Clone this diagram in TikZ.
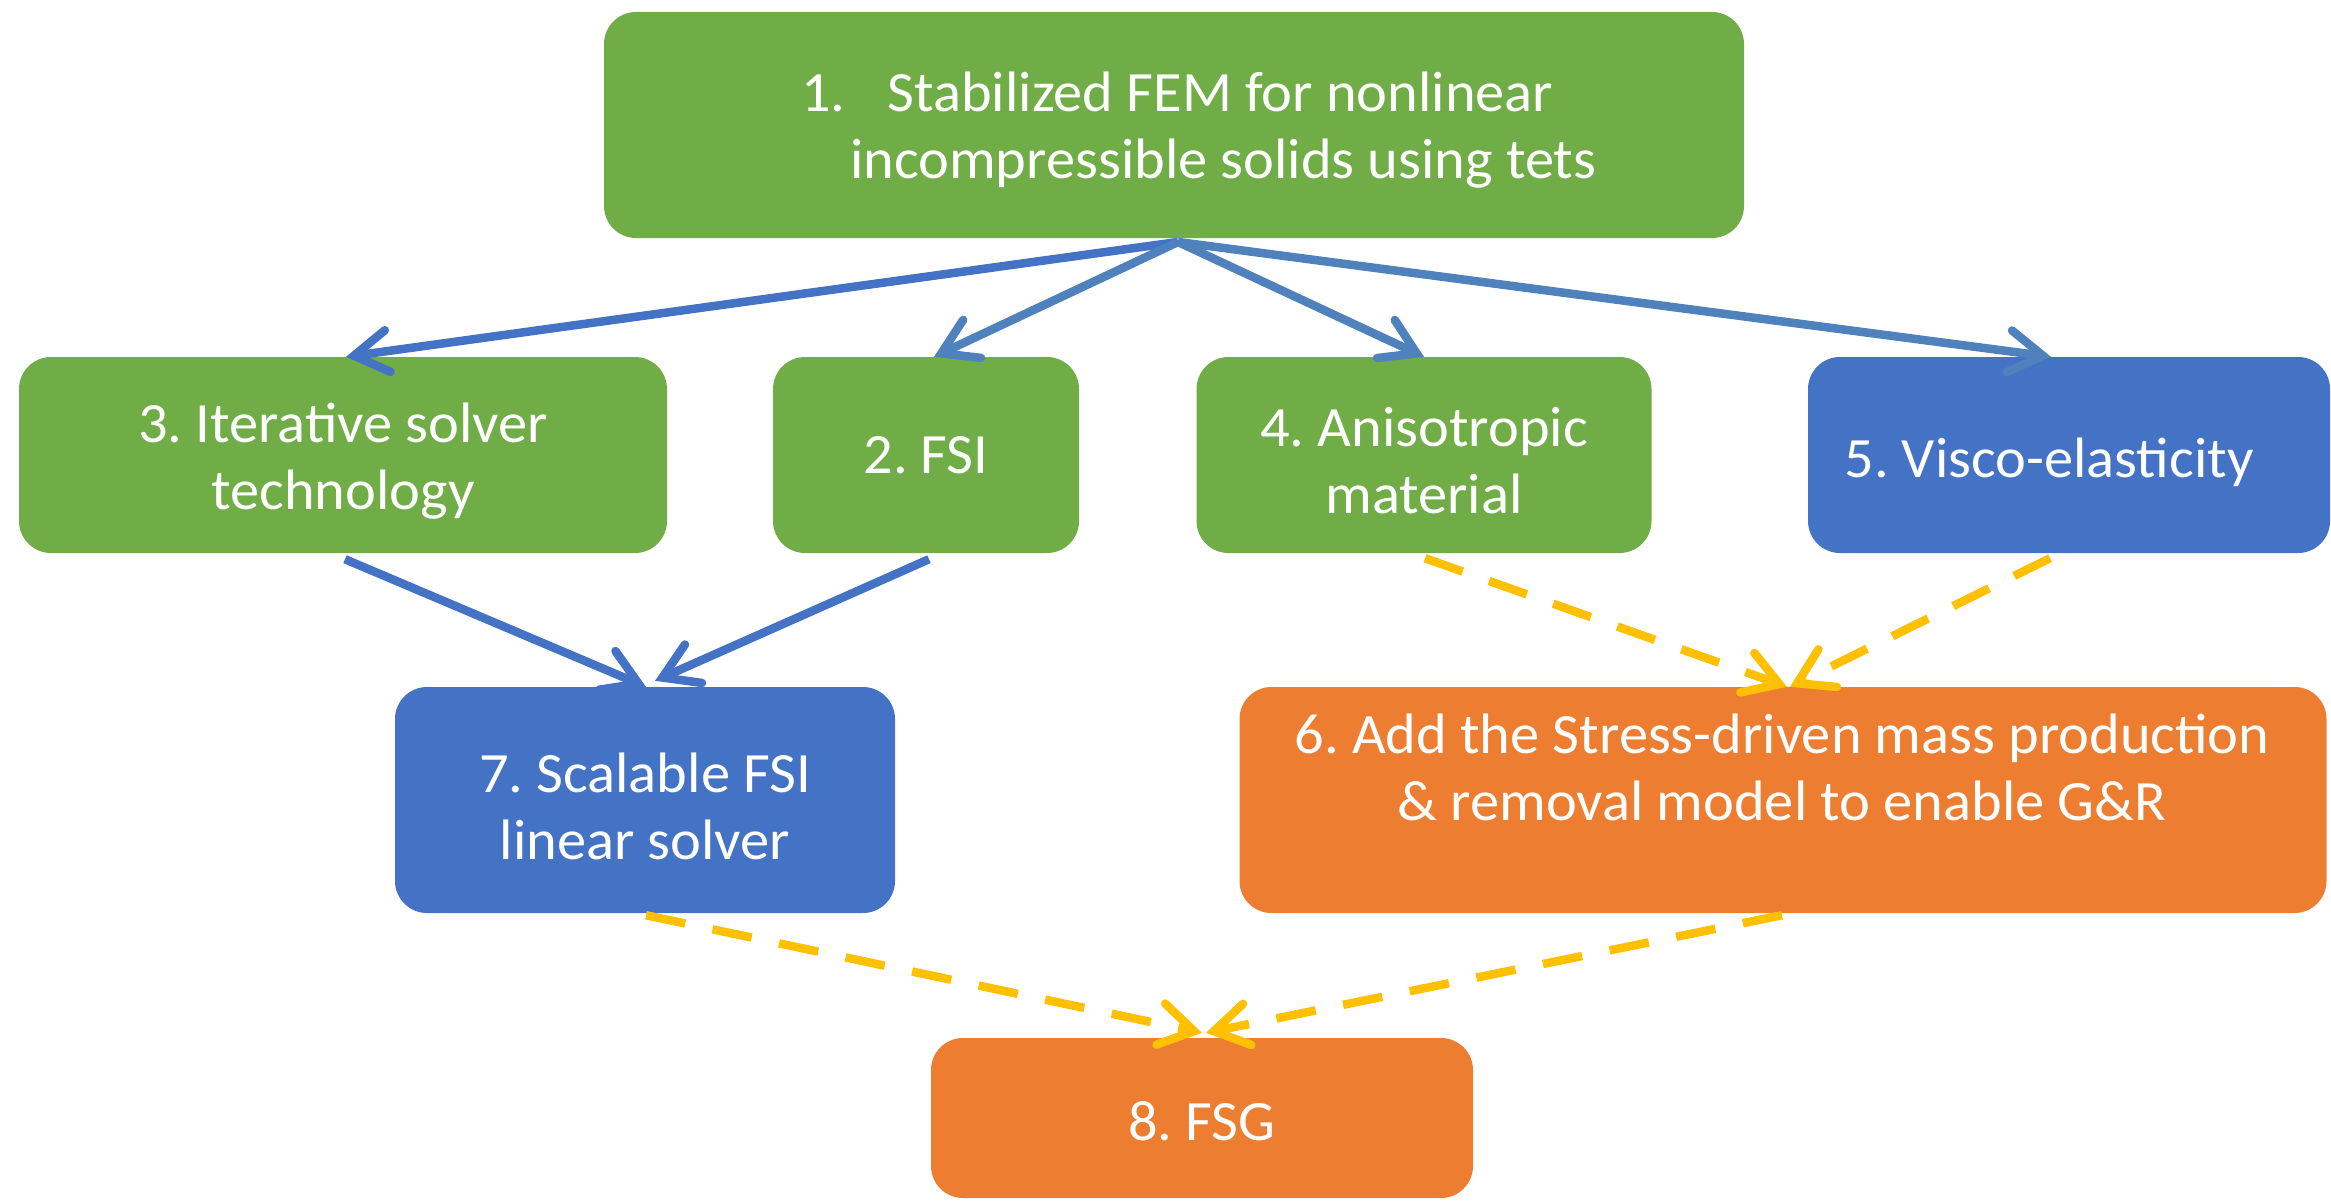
\documentclass[tikz,border=0pt]{standalone}
\usepackage{fontspec}
\setmainfont{Carlito}[FakeStretch=1.025]
\frenchspacing
\usetikzlibrary{arrows.meta,calc}
\definecolor{cgreen}{HTML}{70AD47}
\definecolor{cblue}{HTML}{4472C4}
\definecolor{corange}{HTML}{ED7D31}
\definecolor{cyellow}{HTML}{FFC000}
\definecolor{csteel}{HTML}{4F81BD}
\tikzset{
  box/.style={rounded corners=32pt, draw=none, inner sep=0pt},
  txt/.style={text=white, align=center, inner sep=0pt, font=\fontsize{57}{67}\selectfont},
  solidarr/.style={line width=8.5pt, -{Straight Barb[length=34pt,width=42pt,line cap=round]}},
  dasharr/.style={line width=8.5pt, cyellow, dash pattern=on 40pt off 28pt,
    -{Straight Barb[length=34pt,width=42pt,line cap=round]}}
}
\begin{document}
\begin{tikzpicture}[x=1pt,y=-1pt]
\useasboundingbox (0,0) rectangle (2331,1201);
% boxes
\node[box, fill=cgreen, minimum width=1140pt, minimum height=226pt] (n1) at (1174,125) {};
\node[box, fill=cgreen, minimum width=648pt, minimum height=196pt] (n3) at (343,455) {};
\node[box, fill=cgreen, minimum width=306pt, minimum height=196pt] (n2) at (926,455) {};
\node[box, fill=cgreen, minimum width=455pt, minimum height=196pt] (n4) at (1424,455) {};
\node[box, fill=cblue, minimum width=522pt, minimum height=196pt] (n5) at (2069,455) {};
\node[box, fill=cblue, minimum width=500pt, minimum height=226pt] (n7) at (645,800) {};
\node[box, fill=corange, minimum width=1087pt, minimum height=226pt] (n6) at (1783,800) {};
\node[box, fill=corange, minimum width=542pt, minimum height=160pt] (n8) at (1202,1118) {};
% texts
\node[txt, align=left, anchor=west] (t1) at (801,130)
  {1.\hspace{42pt}Stabilized FEM for nonlinear\\\hspace{49pt}incompressible solids using tets};
\node[txt] (t3) at (343,461) {3. Iterative solver\\technology};
\node[txt] (t2) at (926,455) {2. FSI};
\node[txt] (t4) at (1424,461) {4. Anisotropic\\material};
\node[txt] (t5) at (2049,462) {5. Visco-elasticity};
\node[txt] (t7) at (645,806) {7. Scalable FSI\\linear solver};
\node[txt] (t6) at (1782,767) {6. Add the Stress-driven mass production\\\& removal model to enable G\&R};
\node[txt] (t8) at (1202,1121) {8. FSG};
% connectors
\coordinate (hub) at (1178,242);
\draw[solidarr, cblue] (hub) -- ($(n3.north)+(3,0)$);
\draw[solidarr, csteel] (hub) -- ($(n2.north)+(8,0)$);
\draw[solidarr, csteel] (hub) -- (n4.north);
\draw[solidarr, csteel] (hub) -- ($(n5.north)+(-18,0)$);
\draw[solidarr, cblue] ($(n3.south)+(2,6)$) -- ($(n7.north)+(1,0)$);
\draw[solidarr, cblue] ($(n2.south)+(3,6)$) -- ($(n7.north)+(10,-6)$);
\draw[dasharr] ($(n4.south)+(1,5)$) -- ($(n6.north)+(4,0)$);
\draw[dasharr] ($(n5.south)+(-19,5)$) -- ($(n6.north)+(7,0)$);
\draw[dasharr] ($(n7.south)+(1,2)$) -- ($(n8.north)+(0,-5)$);
\draw[dasharr] ($(n6.south)+(-1,2)$) -- ($(n8.north)+(4,-5)$);
\end{tikzpicture}
\end{document}
